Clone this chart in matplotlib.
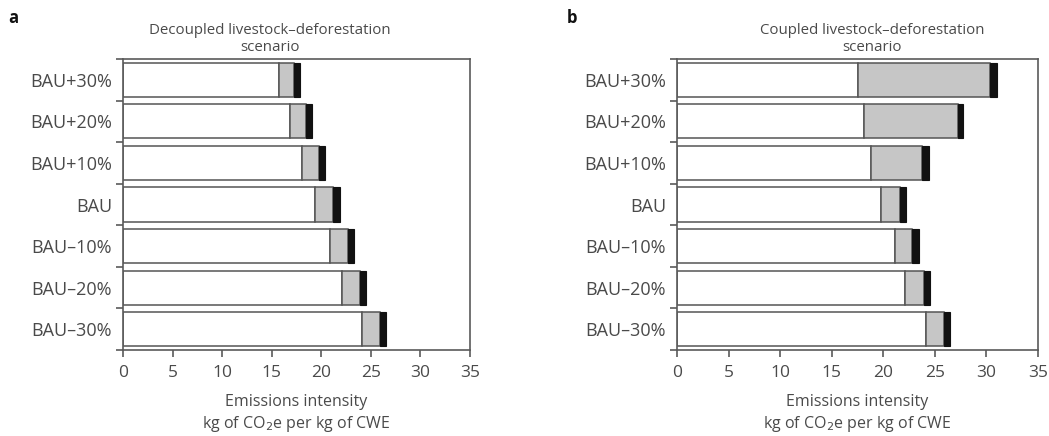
import matplotlib
matplotlib.use('Agg')
import matplotlib.pyplot as plt
import numpy as np

plt.rcParams['font.family'] = ['Open Sans', 'DejaVu Sans']

scenarios = ['BAU+30%', 'BAU+20%', 'BAU+10%', 'BAU', 'BAU\u201310%', 'BAU\u201320%', 'BAU\u201330%']

# kg CO2e per kg CWE, three stacked components per scenario
decoupled_base = [15.7, 16.8, 18.05, 19.4, 20.9, 22.05, 24.1]
decoupled_defor = [1.5, 1.65, 1.75, 1.8, 1.8, 1.85, 1.8]
decoupled_other = [0.7, 0.65, 0.6, 0.7, 0.6, 0.6, 0.6]

coupled_base = [17.5, 18.1, 18.8, 19.8, 21.1, 22.1, 24.1]
coupled_defor = [12.8, 9.1, 4.95, 1.8, 1.7, 1.8, 1.8]
coupled_other = [0.7, 0.5, 0.65, 0.6, 0.7, 0.6, 0.6]

text_color = '#4a4a4a'
spine_color = '#5a5a5a'


def draw_panel(ax, base, defor, other, title, title_x, letter):
    y = np.arange(len(scenarios))
    base = np.array(base)
    defor = np.array(defor)
    other = np.array(other)
    kw = dict(height=0.82, edgecolor='#555555', linewidth=1.1)
    ax.barh(y, base, color='white', **kw)
    ax.barh(y, defor, left=base, color='#c6c6c6', **kw)
    ax.barh(y, other, left=base + defor, color='#111111', edgecolor='#111111', height=0.82, linewidth=0.8)

    ax.set_xlim(0, 35)
    ax.set_ylim(len(scenarios) - 0.5, -0.5)
    ax.set_xticks(range(0, 36, 5))
    ax.set_yticks(y)
    ax.set_yticklabels(scenarios)
    ax.set_yticks(np.arange(-0.5, len(scenarios)), minor=True)
    ax.tick_params(axis='y', which='major', length=0, pad=8, labelsize=13, labelcolor=text_color)
    ax.tick_params(axis='y', which='minor', length=5, width=1.2, color=spine_color, direction='out')
    ax.tick_params(axis='x', length=5, width=1.2, color=spine_color, labelsize=12.5,
                   labelcolor=text_color, pad=6)
    for s in ax.spines.values():
        s.set_color(spine_color)
        s.set_linewidth(1.2)

    ax.set_xlabel('Emissions intensity\nkg of CO$_2$e per kg of CWE', fontsize=11.5,
                  color=text_color, labelpad=9, linespacing=1.3)
    ax.text(title_x, 1.015, title, transform=ax.transAxes, ha='center', va='bottom',
            fontsize=10.8, color=text_color, linespacing=1.15)
    ax.text(letter[1], 1.11, letter[0], transform=ax.transAxes, ha='left', va='bottom',
            fontsize=12, fontweight='bold', color='#111111')


fig = plt.figure(figsize=(10.49, 4.36), dpi=100)
ax_a = fig.add_axes([123 / 1049, 86 / 436, 347 / 1049, 291 / 436])
ax_b = fig.add_axes([677 / 1049, 86 / 436, 361 / 1049, 291 / 436])

draw_panel(ax_a, decoupled_base, decoupled_defor, decoupled_other,
           'Decoupled livestock\u2013deforestation\nscenario', 0.424, ('a', -0.33))
draw_panel(ax_b, coupled_base, coupled_defor, coupled_other,
           'Coupled livestock\u2013deforestation\nscenario', 0.54, ('b', -0.305))

fig.savefig('out.png', dpi=100)
